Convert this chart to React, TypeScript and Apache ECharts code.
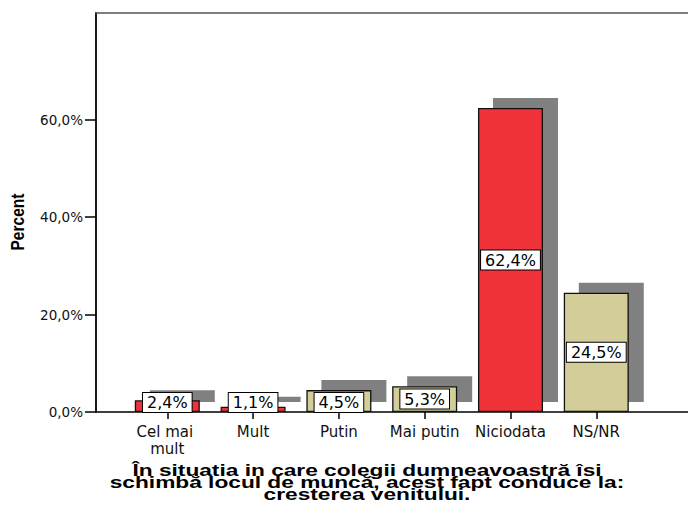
import React, { useEffect, useRef } from "react";
import * as echarts from "echarts";

const CATEGORIES = ["Cel mai mult", "Mult", "Putin", "Mai putin", "Niciodata", "NS/NR"];
const PERCENT = [2.4, 1.1, 4.5, 5.3, 62.4, 24.5];
const Y_TICKS = [0, 20, 40, 60];
const X_TITLE = "În situatia in care colegii dumneavoastră îsi\nschimbă locul de muncă, acest fapt conduce la:\ncresterea venitului.";
const Y_TITLE = "Percent";

const RED = "#EF3339";
const TAN = "#D3CE99";
const BAR_COLORS = [RED, RED, TAN, TAN, RED, TAN];
const BAR_W = 65;
const SHADOW_DX = 15;
const SHADOW_DY = 10;
const FONT = '"DejaVu Sans", "Liberation Sans", sans-serif';

const fmt = (v: number) => v.toFixed(1).replace(".", ",") + "%";

export default function App() {
  const ref = useRef<HTMLDivElement>(null);
  useEffect(() => {
    if (!ref.current) return;
    const chart = echarts.init(ref.current, undefined, { renderer: "svg" });
    const catIdx = CATEGORIES.map((_, i) => i);
    const option: any = {
      animation: false,
      backgroundColor: "#ffffff",
      textStyle: { fontFamily: FONT },
      grid: {
        left: 96,
        top: 13,
        right: 0,
        bottom: 94,
        containLabel: false,
        outerBoundsMode: "none",
      },
      xAxis: [
        {
          type: "value",
          min: -0.831,
          max: 6.069,
          splitLine: { show: false },
          axisLine: { show: true, onZero: false, lineStyle: { color: "#000", width: 1.5 } },
          axisTick: {
            show: true,
            customValues: catIdx,
            length: 7,
            lineStyle: { color: "#000", width: 1.5 },
          },
          axisLabel: {
            customValues: catIdx,
            formatter: (v: number) => CATEGORIES[Math.round(v)],
            color: "#111",
            fontSize: 15,
            fontFamily: FONT,
            lineHeight: 16.5,
            width: 80,
            overflow: "break",
            margin: 12,
          },
        },
        {
          type: "value",
          position: "top",
          min: -0.831,
          max: 6.069,
          splitLine: { show: false },
          axisLine: { show: true, onZero: false, lineStyle: { color: "#555", width: 1.5 } },
          axisTick: { show: false },
          axisLabel: { show: false },
        },
      ],
      yAxis: {
        type: "value",
        min: 0,
        max: 81.9,
        splitLine: { show: false },
        axisLine: { show: true, onZero: false, lineStyle: { color: "#000", width: 1.8 } },
        axisTick: {
          show: true,
          customValues: Y_TICKS,
          length: 11,
          lineStyle: { color: "#000", width: 1.5 },
        },
        axisLabel: {
          customValues: Y_TICKS,
          formatter: (v: number) => fmt(v),
          color: "#111",
          fontSize: 13.5,
          fontFamily: FONT,
          margin: 13,
        },
      },
      graphic: [
        {
          type: "text",
          x: 367,
          y: 464,
          scaleX: 1.42,
          style: {
            text: X_TITLE,
            fill: "#000",
            font: 'bold 16px "Liberation Sans", Arial, sans-serif',
            textAlign: "center",
            textVerticalAlign: "top",
            lineHeight: 12,
          },
        },
        {
          type: "text",
          x: 18,
          y: 222,
          rotation: Math.PI / 2,
          scaleX: 0.84,
          style: {
            text: Y_TITLE,
            fill: "#000",
            font: 'bold 18.5px "Liberation Sans", Arial, sans-serif',
            textAlign: "center",
            textVerticalAlign: "middle",
          },
        },
      ],
      series: [
        {
          type: "custom",
          xAxisIndex: 0,
          z: 1,
          data: PERCENT.map((v, i) => [i, v]),
          renderItem: (_p: any, api: any) => {
            const x = api.value(0);
            const v = api.value(1);
            const top = api.coord([x, v]);
            const base = api.coord([x, 0]);
            return {
              type: "rect",
              shape: {
                x: top[0] - BAR_W / 2 + SHADOW_DX,
                y: top[1] - SHADOW_DY,
                width: BAR_W,
                height: base[1] - top[1],
              },
              style: { fill: "#808080" },
            };
          },
        },
        {
          type: "bar",
          xAxisIndex: 0,
          z: 2,
          barWidth: BAR_W,
          data: PERCENT.map((v, i) => ({
            value: [i, v],
            itemStyle: { color: BAR_COLORS[i], borderColor: "#111", borderWidth: 1.3 },
            label: v < 5 ? { position: "insideBottom", distance: 0 } : { position: "inside" },
          })),
          label: {
            show: true,
            formatter: (p: any) => fmt(p.value[1]),
            color: "#000",
            fontFamily: FONT,
            fontSize: 16,
            lineHeight: 17,
            backgroundColor: "#fff",
            borderColor: "#000",
            borderWidth: 1,
            padding: [1, 4, 1, 4],
          },
        },
      ],
    };
    chart.setOption(option);
    return () => chart.dispose();
  }, []);
  return (
    <div
      ref={ref}
      style={{ position: "absolute", left: 0, top: 0, width: 688, height: 506 }}
    />
  );
}
